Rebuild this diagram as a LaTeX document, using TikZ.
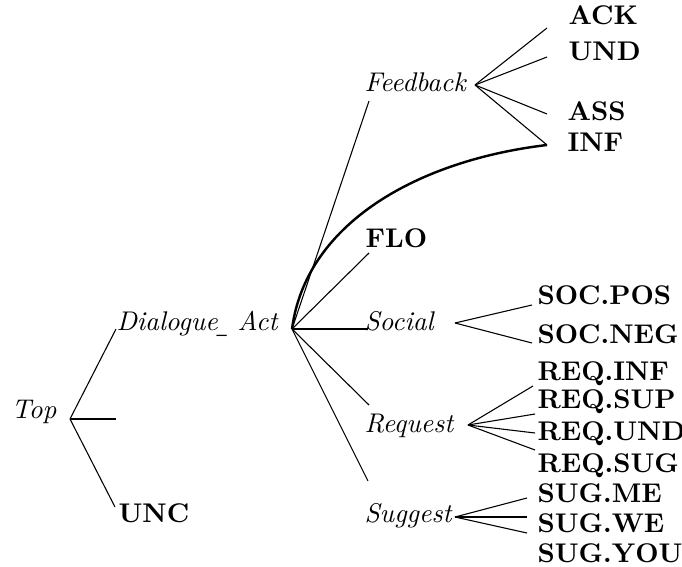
\documentclass[tikz,border=0pt]{standalone}
\usetikzlibrary{positioning}

\begin{document}
\begin{tikzpicture}[
    x=0.37pt, y=-0.37pt,
    % Node styles
    cat/.style={
        font=\itshape,
        inner sep=0pt,
        anchor=base west
    },
    tag/.style={
        font=\bfseries,
        inner sep=0pt,
        anchor=base west
    },
    twig/.style={line width=0.4pt},
    bough/.style={line width=0.9pt}
]
\useasboundingbox (0,0) rectangle (682,567);

% Root
\node[cat] (top) at (11,418) {Top};
\coordinate (topfork) at (70,419);
\coordinate (topstub) at (116,419);

% Level 1
\node[cat] (da) at (116,330) {Dialogue\scalebox{0.5}[1.6]{\_} Act};
\coordinate (dain) at (116,329);
\coordinate (dafork) at (292,329);
\node[tag] (unc) at (118,522) {UNC};
\coordinate (uncin) at (115,507);

% Feedback
\node[cat] (fb) at (364,92) {Feedback};
\coordinate (fbin) at (369,101);
\coordinate (fbfork) at (475,85);
\node[tag] (ack) at (568,25) {ACK};
\coordinate (ackin) at (547,28);
\node[tag] (und) at (568,61) {UND};
\coordinate (undin) at (547,57);
\node[tag] (ass) at (567,121) {ASS};
\coordinate (assin) at (547,114);
\node[tag] (inf) at (567,152) {INF};
\coordinate (infin) at (547,145);

% FLO
\node[tag] (flo) at (365,248) {FLO};
\coordinate (floin) at (369,253);

% Social
\node[cat] (soc) at (364,330) {Social};
\coordinate (socin) at (368,329);
\coordinate (socfork) at (455,323);
\node[tag] (socpos) at (537,304) {SOC.POS};
\coordinate (socposin) at (532,305);
\node[tag] (socneg) at (537,343) {SOC.NEG};
\coordinate (socnegin) at (532,343);

% Request
\node[cat] (req) at (364,432) {Request};
\coordinate (reqin) at (369,405);
\coordinate (reqfork) at (468,425);
\node[tag] (reqinf) at (537,380) {REQ.INF};
\coordinate (reqinfin) at (533,386);
\node[tag] (reqsup) at (537,408) {REQ.SUP};
\coordinate (reqsupin) at (535,414);
\node[tag] (reqund) at (537,440) {REQ.UND};
\coordinate (requndin) at (535,433);
\node[tag] (reqsug) at (537,472) {REQ.SUG};
\coordinate (reqsugin) at (535,450);

% Suggest
\node[cat] (sug) at (364,522) {Suggest};
\coordinate (sugin) at (368,481);
\coordinate (sugfork) at (455,517);
\node[tag] (sugme) at (537,502) {SUG.ME};
\coordinate (sugmein) at (527,498);
\node[tag] (sugwe) at (537,532) {SUG.WE};
\coordinate (sugwein) at (527,517);
\node[tag] (sugyou) at (537,562) {SUG.YOU};
\coordinate (sugyouin) at (527,533);

% Edges
\draw[twig] (topfork) -- (dain);
\draw[bough] (topfork) -- (topstub);
\draw[twig] (topfork) -- (uncin);

\draw[twig] (dafork) -- (fbin);
\draw[twig] (dafork) -- (floin);
\draw[bough] (dafork) -- (socin);
\draw[twig] (dafork) -- (reqin);
\draw[twig] (dafork) -- (sugin);
\draw[bough] (dafork) .. controls (306,222) and (420,160) .. (infin);

\foreach \leaf in {ackin, undin, assin, infin}
    \draw[twig] (fbfork) -- (\leaf);
\foreach \leaf in {socposin, socnegin}
    \draw[twig] (socfork) -- (\leaf);
\foreach \leaf in {reqinfin, reqsupin, requndin, reqsugin}
    \draw[twig] (reqfork) -- (\leaf);
\draw[twig] (sugfork) -- (sugmein);
\draw[bough] (sugfork) -- (sugwein);
\draw[twig] (sugfork) -- (sugyouin);

\end{tikzpicture}
\end{document}
